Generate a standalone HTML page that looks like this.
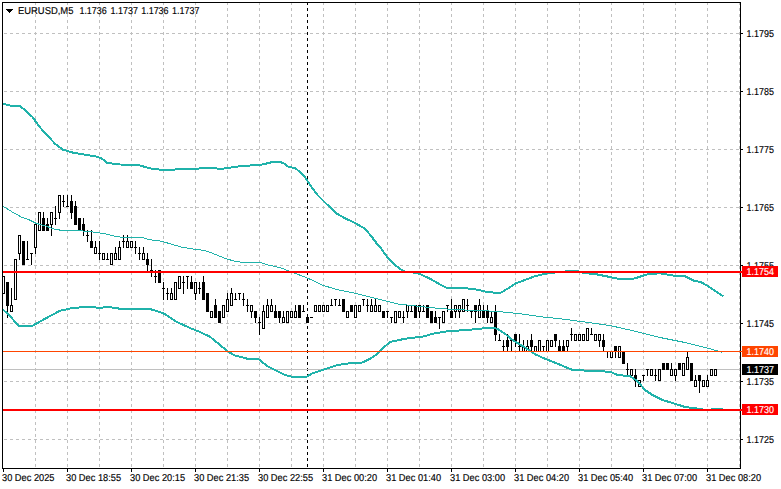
<!DOCTYPE html>
<html><head><meta charset="utf-8"><title>EURUSD,M5</title>
<style>html,body{margin:0;padding:0;background:#fff}svg{display:block}text{font-family:"Liberation Sans",sans-serif;font-size:10px;text-rendering:geometricPrecision;fill:#000;stroke:#000;stroke-width:0.15px}</style>
</head><body>
<svg width="781" height="489" viewBox="0 0 781 489">
<rect x="0" y="0" width="781" height="489" fill="#fff"/>
<g shape-rendering="crispEdges">
<line x1="4" y1="33.5" x2="740" y2="33.5" stroke="#c0c0c0" stroke-width="1" stroke-dasharray="3 3"/>
<line x1="4" y1="91.5" x2="740" y2="91.5" stroke="#c0c0c0" stroke-width="1" stroke-dasharray="3 3"/>
<line x1="4" y1="149.5" x2="740" y2="149.5" stroke="#c0c0c0" stroke-width="1" stroke-dasharray="3 3"/>
<line x1="4" y1="207.5" x2="740" y2="207.5" stroke="#c0c0c0" stroke-width="1" stroke-dasharray="3 3"/>
<line x1="4" y1="265.5" x2="740" y2="265.5" stroke="#c0c0c0" stroke-width="1" stroke-dasharray="3 3"/>
<line x1="4" y1="323.5" x2="740" y2="323.5" stroke="#c0c0c0" stroke-width="1" stroke-dasharray="3 3"/>
<line x1="4" y1="381.5" x2="740" y2="381.5" stroke="#c0c0c0" stroke-width="1" stroke-dasharray="3 3"/>
<line x1="4" y1="439.5" x2="740" y2="439.5" stroke="#c0c0c0" stroke-width="1" stroke-dasharray="3 3"/>
<line x1="35.5" y1="2" x2="35.5" y2="468" stroke="#c0c0c0" stroke-width="1" stroke-dasharray="3 3"/>
<line x1="67.5" y1="2" x2="67.5" y2="468" stroke="#c0c0c0" stroke-width="1" stroke-dasharray="3 3"/>
<line x1="99.5" y1="2" x2="99.5" y2="468" stroke="#c0c0c0" stroke-width="1" stroke-dasharray="3 3"/>
<line x1="131.5" y1="2" x2="131.5" y2="468" stroke="#c0c0c0" stroke-width="1" stroke-dasharray="3 3"/>
<line x1="163.5" y1="2" x2="163.5" y2="468" stroke="#c0c0c0" stroke-width="1" stroke-dasharray="3 3"/>
<line x1="195.5" y1="2" x2="195.5" y2="468" stroke="#c0c0c0" stroke-width="1" stroke-dasharray="3 3"/>
<line x1="227.5" y1="2" x2="227.5" y2="468" stroke="#c0c0c0" stroke-width="1" stroke-dasharray="3 3"/>
<line x1="259.5" y1="2" x2="259.5" y2="468" stroke="#c0c0c0" stroke-width="1" stroke-dasharray="3 3"/>
<line x1="291.5" y1="2" x2="291.5" y2="468" stroke="#c0c0c0" stroke-width="1" stroke-dasharray="3 3"/>
<line x1="323.5" y1="2" x2="323.5" y2="468" stroke="#c0c0c0" stroke-width="1" stroke-dasharray="3 3"/>
<line x1="355.5" y1="2" x2="355.5" y2="468" stroke="#c0c0c0" stroke-width="1" stroke-dasharray="3 3"/>
<line x1="387.5" y1="2" x2="387.5" y2="468" stroke="#c0c0c0" stroke-width="1" stroke-dasharray="3 3"/>
<line x1="419.5" y1="2" x2="419.5" y2="468" stroke="#c0c0c0" stroke-width="1" stroke-dasharray="3 3"/>
<line x1="451.5" y1="2" x2="451.5" y2="468" stroke="#c0c0c0" stroke-width="1" stroke-dasharray="3 3"/>
<line x1="483.5" y1="2" x2="483.5" y2="468" stroke="#c0c0c0" stroke-width="1" stroke-dasharray="3 3"/>
<line x1="515.5" y1="2" x2="515.5" y2="468" stroke="#c0c0c0" stroke-width="1" stroke-dasharray="3 3"/>
<line x1="547.5" y1="2" x2="547.5" y2="468" stroke="#c0c0c0" stroke-width="1" stroke-dasharray="3 3"/>
<line x1="579.5" y1="2" x2="579.5" y2="468" stroke="#c0c0c0" stroke-width="1" stroke-dasharray="3 3"/>
<line x1="611.5" y1="2" x2="611.5" y2="468" stroke="#c0c0c0" stroke-width="1" stroke-dasharray="3 3"/>
<line x1="643.5" y1="2" x2="643.5" y2="468" stroke="#c0c0c0" stroke-width="1" stroke-dasharray="3 3"/>
<line x1="675.5" y1="2" x2="675.5" y2="468" stroke="#c0c0c0" stroke-width="1" stroke-dasharray="3 3"/>
<line x1="707.5" y1="2" x2="707.5" y2="468" stroke="#c0c0c0" stroke-width="1" stroke-dasharray="3 3"/>
<line x1="739.5" y1="2" x2="739.5" y2="468" stroke="#c0c0c0" stroke-width="1" stroke-dasharray="3 3"/>
<line x1="307.5" y1="2" x2="307.5" y2="468" stroke="#000" stroke-width="1" stroke-dasharray="3 3"/>
<rect x="3" y="369" width="737" height="1" fill="#c0c0c0"/>
<rect x="3" y="276" width="1" height="18" fill="#000"/>
<rect x="2" y="276" width="3" height="18" fill="#000"/>
<rect x="3" y="277" width="1" height="16" fill="#fff"/>
<rect x="7" y="282" width="1" height="36" fill="#000"/>
<rect x="6" y="282" width="3" height="24" fill="#000"/>
<rect x="11" y="288" width="1" height="24" fill="#000"/>
<rect x="10" y="305" width="3" height="7" fill="#000"/>
<rect x="11" y="306" width="1" height="5" fill="#fff"/>
<rect x="15" y="259" width="1" height="41" fill="#000"/>
<rect x="14" y="259" width="3" height="41" fill="#000"/>
<rect x="15" y="260" width="1" height="39" fill="#fff"/>
<rect x="19" y="235" width="1" height="25" fill="#000"/>
<rect x="18" y="235" width="3" height="19" fill="#000"/>
<rect x="19" y="236" width="1" height="17" fill="#fff"/>
<rect x="23" y="241" width="1" height="24" fill="#000"/>
<rect x="22" y="241" width="3" height="24" fill="#000"/>
<rect x="27" y="241" width="1" height="19" fill="#000"/>
<rect x="26" y="259" width="3" height="1" fill="#000"/>
<rect x="31" y="253" width="1" height="12" fill="#000"/>
<rect x="30" y="253" width="3" height="1" fill="#000"/>
<rect x="35" y="224" width="1" height="30" fill="#000"/>
<rect x="34" y="224" width="3" height="24" fill="#000"/>
<rect x="35" y="225" width="1" height="22" fill="#fff"/>
<rect x="39" y="212" width="1" height="19" fill="#000"/>
<rect x="38" y="212" width="3" height="19" fill="#000"/>
<rect x="39" y="213" width="1" height="17" fill="#fff"/>
<rect x="43" y="212" width="1" height="19" fill="#000"/>
<rect x="42" y="218" width="3" height="13" fill="#000"/>
<rect x="47" y="218" width="1" height="13" fill="#000"/>
<rect x="46" y="224" width="3" height="7" fill="#000"/>
<rect x="51" y="212" width="1" height="24" fill="#000"/>
<rect x="50" y="212" width="3" height="13" fill="#000"/>
<rect x="51" y="213" width="1" height="11" fill="#fff"/>
<rect x="55" y="206" width="1" height="19" fill="#000"/>
<rect x="54" y="218" width="3" height="1" fill="#000"/>
<rect x="59" y="195" width="1" height="24" fill="#000"/>
<rect x="58" y="195" width="3" height="18" fill="#000"/>
<rect x="59" y="196" width="1" height="16" fill="#fff"/>
<rect x="63" y="195" width="1" height="12" fill="#000"/>
<rect x="62" y="201" width="3" height="1" fill="#000"/>
<rect x="67" y="195" width="1" height="12" fill="#000"/>
<rect x="66" y="206" width="3" height="1" fill="#000"/>
<rect x="71" y="195" width="1" height="24" fill="#000"/>
<rect x="70" y="201" width="3" height="12" fill="#000"/>
<rect x="75" y="201" width="1" height="24" fill="#000"/>
<rect x="74" y="206" width="3" height="19" fill="#000"/>
<rect x="79" y="218" width="1" height="13" fill="#000"/>
<rect x="78" y="218" width="3" height="13" fill="#000"/>
<rect x="83" y="218" width="1" height="18" fill="#000"/>
<rect x="82" y="224" width="3" height="7" fill="#000"/>
<rect x="87" y="230" width="1" height="12" fill="#000"/>
<rect x="86" y="235" width="3" height="1" fill="#000"/>
<rect x="91" y="230" width="1" height="18" fill="#000"/>
<rect x="90" y="241" width="3" height="7" fill="#000"/>
<rect x="95" y="241" width="1" height="13" fill="#000"/>
<rect x="94" y="247" width="3" height="7" fill="#000"/>
<rect x="95" y="248" width="1" height="5" fill="#fff"/>
<rect x="99" y="241" width="1" height="19" fill="#000"/>
<rect x="98" y="253" width="3" height="1" fill="#000"/>
<rect x="103" y="253" width="1" height="7" fill="#000"/>
<rect x="102" y="253" width="3" height="7" fill="#000"/>
<rect x="103" y="254" width="1" height="5" fill="#fff"/>
<rect x="107" y="253" width="1" height="7" fill="#000"/>
<rect x="106" y="259" width="3" height="1" fill="#000"/>
<rect x="111" y="253" width="1" height="12" fill="#000"/>
<rect x="110" y="253" width="3" height="12" fill="#000"/>
<rect x="111" y="254" width="1" height="10" fill="#fff"/>
<rect x="115" y="247" width="1" height="13" fill="#000"/>
<rect x="114" y="253" width="3" height="7" fill="#000"/>
<rect x="115" y="254" width="1" height="5" fill="#fff"/>
<rect x="119" y="241" width="1" height="19" fill="#000"/>
<rect x="118" y="247" width="3" height="13" fill="#000"/>
<rect x="119" y="248" width="1" height="11" fill="#fff"/>
<rect x="123" y="235" width="1" height="13" fill="#000"/>
<rect x="122" y="241" width="3" height="1" fill="#000"/>
<rect x="127" y="235" width="1" height="13" fill="#000"/>
<rect x="126" y="241" width="3" height="7" fill="#000"/>
<rect x="127" y="242" width="1" height="5" fill="#fff"/>
<rect x="131" y="241" width="1" height="7" fill="#000"/>
<rect x="130" y="241" width="3" height="7" fill="#000"/>
<rect x="131" y="242" width="1" height="5" fill="#fff"/>
<rect x="135" y="241" width="1" height="13" fill="#000"/>
<rect x="134" y="247" width="3" height="1" fill="#000"/>
<rect x="139" y="247" width="1" height="13" fill="#000"/>
<rect x="138" y="253" width="3" height="1" fill="#000"/>
<rect x="143" y="247" width="1" height="13" fill="#000"/>
<rect x="142" y="253" width="3" height="7" fill="#000"/>
<rect x="143" y="254" width="1" height="5" fill="#fff"/>
<rect x="147" y="253" width="1" height="18" fill="#000"/>
<rect x="146" y="259" width="3" height="6" fill="#000"/>
<rect x="151" y="259" width="1" height="18" fill="#000"/>
<rect x="150" y="270" width="3" height="1" fill="#000"/>
<rect x="155" y="270" width="1" height="13" fill="#000"/>
<rect x="154" y="276" width="3" height="1" fill="#000"/>
<rect x="159" y="270" width="1" height="13" fill="#000"/>
<rect x="158" y="270" width="3" height="13" fill="#000"/>
<rect x="163" y="282" width="1" height="18" fill="#000"/>
<rect x="162" y="288" width="3" height="1" fill="#000"/>
<rect x="167" y="288" width="1" height="12" fill="#000"/>
<rect x="166" y="293" width="3" height="1" fill="#000"/>
<rect x="171" y="288" width="1" height="12" fill="#000"/>
<rect x="170" y="293" width="3" height="7" fill="#000"/>
<rect x="171" y="294" width="1" height="5" fill="#fff"/>
<rect x="175" y="282" width="1" height="18" fill="#000"/>
<rect x="174" y="282" width="3" height="18" fill="#000"/>
<rect x="175" y="283" width="1" height="16" fill="#fff"/>
<rect x="179" y="276" width="1" height="13" fill="#000"/>
<rect x="178" y="276" width="3" height="13" fill="#000"/>
<rect x="179" y="277" width="1" height="11" fill="#fff"/>
<rect x="183" y="276" width="1" height="18" fill="#000"/>
<rect x="182" y="282" width="3" height="1" fill="#000"/>
<rect x="187" y="276" width="1" height="13" fill="#000"/>
<rect x="186" y="276" width="3" height="1" fill="#000"/>
<rect x="191" y="276" width="1" height="13" fill="#000"/>
<rect x="190" y="282" width="3" height="7" fill="#000"/>
<rect x="195" y="282" width="1" height="18" fill="#000"/>
<rect x="194" y="282" width="3" height="12" fill="#000"/>
<rect x="195" y="283" width="1" height="10" fill="#fff"/>
<rect x="199" y="282" width="1" height="12" fill="#000"/>
<rect x="198" y="288" width="3" height="1" fill="#000"/>
<rect x="203" y="276" width="1" height="24" fill="#000"/>
<rect x="202" y="282" width="3" height="18" fill="#000"/>
<rect x="207" y="293" width="1" height="19" fill="#000"/>
<rect x="206" y="293" width="3" height="19" fill="#000"/>
<rect x="211" y="311" width="1" height="7" fill="#000"/>
<rect x="210" y="311" width="3" height="7" fill="#000"/>
<rect x="211" y="312" width="1" height="5" fill="#fff"/>
<rect x="215" y="299" width="1" height="19" fill="#000"/>
<rect x="214" y="305" width="3" height="13" fill="#000"/>
<rect x="219" y="311" width="1" height="12" fill="#000"/>
<rect x="218" y="311" width="3" height="12" fill="#000"/>
<rect x="223" y="305" width="1" height="13" fill="#000"/>
<rect x="222" y="305" width="3" height="13" fill="#000"/>
<rect x="223" y="306" width="1" height="11" fill="#fff"/>
<rect x="227" y="293" width="1" height="19" fill="#000"/>
<rect x="226" y="299" width="3" height="13" fill="#000"/>
<rect x="227" y="300" width="1" height="11" fill="#fff"/>
<rect x="231" y="288" width="1" height="18" fill="#000"/>
<rect x="230" y="293" width="3" height="13" fill="#000"/>
<rect x="231" y="294" width="1" height="11" fill="#fff"/>
<rect x="235" y="293" width="1" height="7" fill="#000"/>
<rect x="234" y="299" width="3" height="1" fill="#000"/>
<rect x="239" y="293" width="1" height="7" fill="#000"/>
<rect x="238" y="293" width="3" height="1" fill="#000"/>
<rect x="243" y="293" width="1" height="13" fill="#000"/>
<rect x="242" y="299" width="3" height="1" fill="#000"/>
<rect x="247" y="299" width="1" height="13" fill="#000"/>
<rect x="246" y="305" width="3" height="1" fill="#000"/>
<rect x="251" y="305" width="1" height="13" fill="#000"/>
<rect x="250" y="305" width="3" height="7" fill="#000"/>
<rect x="251" y="306" width="1" height="5" fill="#fff"/>
<rect x="255" y="311" width="1" height="12" fill="#000"/>
<rect x="254" y="311" width="3" height="7" fill="#000"/>
<rect x="259" y="317" width="1" height="18" fill="#000"/>
<rect x="258" y="322" width="3" height="1" fill="#000"/>
<rect x="263" y="305" width="1" height="24" fill="#000"/>
<rect x="262" y="311" width="3" height="18" fill="#000"/>
<rect x="263" y="312" width="1" height="16" fill="#fff"/>
<rect x="267" y="299" width="1" height="19" fill="#000"/>
<rect x="266" y="305" width="3" height="13" fill="#000"/>
<rect x="267" y="306" width="1" height="11" fill="#fff"/>
<rect x="271" y="299" width="1" height="13" fill="#000"/>
<rect x="270" y="305" width="3" height="7" fill="#000"/>
<rect x="271" y="306" width="1" height="5" fill="#fff"/>
<rect x="275" y="305" width="1" height="13" fill="#000"/>
<rect x="274" y="311" width="3" height="7" fill="#000"/>
<rect x="279" y="311" width="1" height="12" fill="#000"/>
<rect x="278" y="311" width="3" height="7" fill="#000"/>
<rect x="283" y="311" width="1" height="12" fill="#000"/>
<rect x="282" y="317" width="3" height="6" fill="#000"/>
<rect x="283" y="318" width="1" height="4" fill="#fff"/>
<rect x="287" y="311" width="1" height="12" fill="#000"/>
<rect x="286" y="311" width="3" height="12" fill="#000"/>
<rect x="287" y="312" width="1" height="10" fill="#fff"/>
<rect x="291" y="311" width="1" height="7" fill="#000"/>
<rect x="290" y="311" width="3" height="7" fill="#000"/>
<rect x="291" y="312" width="1" height="5" fill="#fff"/>
<rect x="295" y="305" width="1" height="13" fill="#000"/>
<rect x="294" y="311" width="3" height="7" fill="#000"/>
<rect x="295" y="312" width="1" height="5" fill="#fff"/>
<rect x="299" y="305" width="1" height="13" fill="#000"/>
<rect x="298" y="305" width="3" height="13" fill="#000"/>
<rect x="303" y="305" width="1" height="7" fill="#000"/>
<rect x="302" y="311" width="3" height="1" fill="#000"/>
<rect x="307" y="317" width="1" height="6" fill="#000"/>
<rect x="306" y="317" width="3" height="6" fill="#000"/>
<rect x="311" y="317" width="1" height="1" fill="#000"/>
<rect x="310" y="317" width="3" height="1" fill="#000"/>
<rect x="315" y="305" width="1" height="7" fill="#000"/>
<rect x="314" y="305" width="3" height="7" fill="#000"/>
<rect x="315" y="306" width="1" height="5" fill="#fff"/>
<rect x="319" y="305" width="1" height="7" fill="#000"/>
<rect x="318" y="305" width="3" height="7" fill="#000"/>
<rect x="319" y="306" width="1" height="5" fill="#fff"/>
<rect x="323" y="305" width="1" height="7" fill="#000"/>
<rect x="322" y="305" width="3" height="7" fill="#000"/>
<rect x="323" y="306" width="1" height="5" fill="#fff"/>
<rect x="327" y="305" width="1" height="7" fill="#000"/>
<rect x="326" y="305" width="3" height="7" fill="#000"/>
<rect x="327" y="306" width="1" height="5" fill="#fff"/>
<rect x="331" y="299" width="1" height="7" fill="#000"/>
<rect x="330" y="305" width="3" height="1" fill="#000"/>
<rect x="335" y="299" width="1" height="7" fill="#000"/>
<rect x="334" y="299" width="3" height="1" fill="#000"/>
<rect x="339" y="299" width="1" height="7" fill="#000"/>
<rect x="338" y="305" width="3" height="1" fill="#000"/>
<rect x="343" y="299" width="1" height="13" fill="#000"/>
<rect x="342" y="299" width="3" height="13" fill="#000"/>
<rect x="347" y="311" width="1" height="7" fill="#000"/>
<rect x="346" y="311" width="3" height="7" fill="#000"/>
<rect x="347" y="312" width="1" height="5" fill="#fff"/>
<rect x="351" y="305" width="1" height="7" fill="#000"/>
<rect x="350" y="305" width="3" height="7" fill="#000"/>
<rect x="355" y="305" width="1" height="13" fill="#000"/>
<rect x="354" y="305" width="3" height="13" fill="#000"/>
<rect x="355" y="306" width="1" height="11" fill="#fff"/>
<rect x="359" y="305" width="1" height="7" fill="#000"/>
<rect x="358" y="305" width="3" height="7" fill="#000"/>
<rect x="359" y="306" width="1" height="5" fill="#fff"/>
<rect x="363" y="299" width="1" height="7" fill="#000"/>
<rect x="362" y="299" width="3" height="1" fill="#000"/>
<rect x="367" y="299" width="1" height="13" fill="#000"/>
<rect x="366" y="305" width="3" height="1" fill="#000"/>
<rect x="371" y="299" width="1" height="13" fill="#000"/>
<rect x="370" y="305" width="3" height="7" fill="#000"/>
<rect x="371" y="306" width="1" height="5" fill="#fff"/>
<rect x="375" y="299" width="1" height="13" fill="#000"/>
<rect x="374" y="305" width="3" height="7" fill="#000"/>
<rect x="375" y="306" width="1" height="5" fill="#fff"/>
<rect x="379" y="305" width="1" height="7" fill="#000"/>
<rect x="378" y="305" width="3" height="7" fill="#000"/>
<rect x="379" y="306" width="1" height="5" fill="#fff"/>
<rect x="383" y="311" width="1" height="7" fill="#000"/>
<rect x="382" y="311" width="3" height="7" fill="#000"/>
<rect x="387" y="311" width="1" height="7" fill="#000"/>
<rect x="386" y="311" width="3" height="1" fill="#000"/>
<rect x="391" y="317" width="1" height="6" fill="#000"/>
<rect x="390" y="317" width="3" height="1" fill="#000"/>
<rect x="395" y="311" width="1" height="12" fill="#000"/>
<rect x="394" y="311" width="3" height="12" fill="#000"/>
<rect x="395" y="312" width="1" height="10" fill="#fff"/>
<rect x="399" y="311" width="1" height="7" fill="#000"/>
<rect x="398" y="311" width="3" height="7" fill="#000"/>
<rect x="399" y="312" width="1" height="5" fill="#fff"/>
<rect x="403" y="311" width="1" height="12" fill="#000"/>
<rect x="402" y="317" width="3" height="1" fill="#000"/>
<rect x="407" y="305" width="1" height="13" fill="#000"/>
<rect x="406" y="305" width="3" height="7" fill="#000"/>
<rect x="407" y="306" width="1" height="5" fill="#fff"/>
<rect x="411" y="305" width="1" height="7" fill="#000"/>
<rect x="410" y="311" width="3" height="1" fill="#000"/>
<rect x="415" y="305" width="1" height="13" fill="#000"/>
<rect x="414" y="305" width="3" height="13" fill="#000"/>
<rect x="419" y="305" width="1" height="13" fill="#000"/>
<rect x="418" y="305" width="3" height="7" fill="#000"/>
<rect x="419" y="306" width="1" height="5" fill="#fff"/>
<rect x="423" y="305" width="1" height="7" fill="#000"/>
<rect x="422" y="311" width="3" height="1" fill="#000"/>
<rect x="427" y="305" width="1" height="13" fill="#000"/>
<rect x="426" y="305" width="3" height="13" fill="#000"/>
<rect x="431" y="311" width="1" height="12" fill="#000"/>
<rect x="430" y="311" width="3" height="12" fill="#000"/>
<rect x="435" y="311" width="1" height="12" fill="#000"/>
<rect x="434" y="317" width="3" height="6" fill="#000"/>
<rect x="439" y="317" width="1" height="12" fill="#000"/>
<rect x="438" y="317" width="3" height="1" fill="#000"/>
<rect x="443" y="311" width="1" height="12" fill="#000"/>
<rect x="442" y="311" width="3" height="12" fill="#000"/>
<rect x="443" y="312" width="1" height="10" fill="#fff"/>
<rect x="447" y="305" width="1" height="7" fill="#000"/>
<rect x="446" y="305" width="3" height="1" fill="#000"/>
<rect x="451" y="299" width="1" height="19" fill="#000"/>
<rect x="450" y="311" width="3" height="7" fill="#000"/>
<rect x="455" y="305" width="1" height="13" fill="#000"/>
<rect x="454" y="305" width="3" height="7" fill="#000"/>
<rect x="455" y="306" width="1" height="5" fill="#fff"/>
<rect x="459" y="305" width="1" height="13" fill="#000"/>
<rect x="458" y="305" width="3" height="7" fill="#000"/>
<rect x="459" y="306" width="1" height="5" fill="#fff"/>
<rect x="463" y="299" width="1" height="13" fill="#000"/>
<rect x="462" y="299" width="3" height="13" fill="#000"/>
<rect x="463" y="300" width="1" height="11" fill="#fff"/>
<rect x="467" y="299" width="1" height="13" fill="#000"/>
<rect x="466" y="305" width="3" height="1" fill="#000"/>
<rect x="471" y="311" width="1" height="7" fill="#000"/>
<rect x="470" y="311" width="3" height="1" fill="#000"/>
<rect x="475" y="305" width="1" height="18" fill="#000"/>
<rect x="474" y="305" width="3" height="7" fill="#000"/>
<rect x="479" y="299" width="1" height="19" fill="#000"/>
<rect x="478" y="305" width="3" height="13" fill="#000"/>
<rect x="479" y="306" width="1" height="11" fill="#fff"/>
<rect x="483" y="305" width="1" height="13" fill="#000"/>
<rect x="482" y="311" width="3" height="7" fill="#000"/>
<rect x="487" y="305" width="1" height="18" fill="#000"/>
<rect x="486" y="311" width="3" height="7" fill="#000"/>
<rect x="491" y="311" width="1" height="12" fill="#000"/>
<rect x="490" y="317" width="3" height="6" fill="#000"/>
<rect x="491" y="318" width="1" height="4" fill="#fff"/>
<rect x="495" y="305" width="1" height="36" fill="#000"/>
<rect x="494" y="311" width="3" height="24" fill="#000"/>
<rect x="499" y="334" width="1" height="7" fill="#000"/>
<rect x="498" y="340" width="3" height="1" fill="#000"/>
<rect x="503" y="340" width="1" height="12" fill="#000"/>
<rect x="502" y="346" width="3" height="1" fill="#000"/>
<rect x="507" y="334" width="1" height="18" fill="#000"/>
<rect x="506" y="340" width="3" height="7" fill="#000"/>
<rect x="511" y="340" width="1" height="12" fill="#000"/>
<rect x="510" y="340" width="3" height="1" fill="#000"/>
<rect x="515" y="334" width="1" height="13" fill="#000"/>
<rect x="514" y="334" width="3" height="7" fill="#000"/>
<rect x="519" y="334" width="1" height="18" fill="#000"/>
<rect x="518" y="346" width="3" height="1" fill="#000"/>
<rect x="523" y="340" width="1" height="12" fill="#000"/>
<rect x="522" y="346" width="3" height="6" fill="#000"/>
<rect x="523" y="347" width="1" height="4" fill="#fff"/>
<rect x="527" y="340" width="1" height="12" fill="#000"/>
<rect x="526" y="346" width="3" height="6" fill="#000"/>
<rect x="527" y="347" width="1" height="4" fill="#fff"/>
<rect x="531" y="334" width="1" height="18" fill="#000"/>
<rect x="530" y="340" width="3" height="7" fill="#000"/>
<rect x="535" y="346" width="1" height="6" fill="#000"/>
<rect x="534" y="346" width="3" height="6" fill="#000"/>
<rect x="535" y="347" width="1" height="4" fill="#fff"/>
<rect x="539" y="340" width="1" height="12" fill="#000"/>
<rect x="538" y="340" width="3" height="12" fill="#000"/>
<rect x="539" y="341" width="1" height="10" fill="#fff"/>
<rect x="543" y="346" width="1" height="6" fill="#000"/>
<rect x="542" y="346" width="3" height="1" fill="#000"/>
<rect x="547" y="340" width="1" height="12" fill="#000"/>
<rect x="546" y="340" width="3" height="12" fill="#000"/>
<rect x="547" y="341" width="1" height="10" fill="#fff"/>
<rect x="551" y="340" width="1" height="7" fill="#000"/>
<rect x="550" y="340" width="3" height="7" fill="#000"/>
<rect x="551" y="341" width="1" height="5" fill="#fff"/>
<rect x="555" y="334" width="1" height="13" fill="#000"/>
<rect x="554" y="334" width="3" height="7" fill="#000"/>
<rect x="559" y="340" width="1" height="12" fill="#000"/>
<rect x="558" y="346" width="3" height="6" fill="#000"/>
<rect x="563" y="340" width="1" height="12" fill="#000"/>
<rect x="562" y="346" width="3" height="6" fill="#000"/>
<rect x="567" y="340" width="1" height="12" fill="#000"/>
<rect x="566" y="340" width="3" height="7" fill="#000"/>
<rect x="567" y="341" width="1" height="5" fill="#fff"/>
<rect x="571" y="328" width="1" height="13" fill="#000"/>
<rect x="570" y="334" width="3" height="1" fill="#000"/>
<rect x="575" y="334" width="1" height="7" fill="#000"/>
<rect x="574" y="334" width="3" height="7" fill="#000"/>
<rect x="575" y="335" width="1" height="5" fill="#fff"/>
<rect x="579" y="334" width="1" height="7" fill="#000"/>
<rect x="578" y="334" width="3" height="7" fill="#000"/>
<rect x="579" y="335" width="1" height="5" fill="#fff"/>
<rect x="583" y="334" width="1" height="7" fill="#000"/>
<rect x="582" y="334" width="3" height="7" fill="#000"/>
<rect x="583" y="335" width="1" height="5" fill="#fff"/>
<rect x="587" y="328" width="1" height="13" fill="#000"/>
<rect x="586" y="328" width="3" height="13" fill="#000"/>
<rect x="587" y="329" width="1" height="11" fill="#fff"/>
<rect x="591" y="328" width="1" height="7" fill="#000"/>
<rect x="590" y="334" width="3" height="1" fill="#000"/>
<rect x="595" y="334" width="1" height="7" fill="#000"/>
<rect x="594" y="334" width="3" height="7" fill="#000"/>
<rect x="595" y="335" width="1" height="5" fill="#fff"/>
<rect x="599" y="334" width="1" height="13" fill="#000"/>
<rect x="598" y="334" width="3" height="7" fill="#000"/>
<rect x="599" y="335" width="1" height="5" fill="#fff"/>
<rect x="603" y="334" width="1" height="18" fill="#000"/>
<rect x="602" y="340" width="3" height="7" fill="#000"/>
<rect x="607" y="351" width="1" height="7" fill="#000"/>
<rect x="606" y="351" width="3" height="1" fill="#000"/>
<rect x="611" y="351" width="1" height="7" fill="#000"/>
<rect x="610" y="351" width="3" height="7" fill="#000"/>
<rect x="611" y="352" width="1" height="5" fill="#fff"/>
<rect x="615" y="346" width="1" height="12" fill="#000"/>
<rect x="614" y="346" width="3" height="6" fill="#000"/>
<rect x="619" y="346" width="1" height="12" fill="#000"/>
<rect x="618" y="346" width="3" height="12" fill="#000"/>
<rect x="619" y="347" width="1" height="10" fill="#fff"/>
<rect x="623" y="351" width="1" height="13" fill="#000"/>
<rect x="622" y="351" width="3" height="13" fill="#000"/>
<rect x="627" y="363" width="1" height="13" fill="#000"/>
<rect x="626" y="369" width="3" height="1" fill="#000"/>
<rect x="631" y="369" width="1" height="7" fill="#000"/>
<rect x="630" y="369" width="3" height="7" fill="#000"/>
<rect x="631" y="370" width="1" height="5" fill="#fff"/>
<rect x="635" y="369" width="1" height="18" fill="#000"/>
<rect x="634" y="375" width="3" height="6" fill="#000"/>
<rect x="639" y="380" width="1" height="7" fill="#000"/>
<rect x="638" y="380" width="3" height="7" fill="#000"/>
<rect x="639" y="381" width="1" height="5" fill="#fff"/>
<rect x="643" y="375" width="1" height="6" fill="#000"/>
<rect x="642" y="375" width="3" height="1" fill="#000"/>
<rect x="647" y="369" width="1" height="7" fill="#000"/>
<rect x="646" y="369" width="3" height="1" fill="#000"/>
<rect x="651" y="369" width="1" height="7" fill="#000"/>
<rect x="650" y="369" width="3" height="7" fill="#000"/>
<rect x="651" y="370" width="1" height="5" fill="#fff"/>
<rect x="655" y="369" width="1" height="12" fill="#000"/>
<rect x="654" y="375" width="3" height="1" fill="#000"/>
<rect x="659" y="369" width="1" height="12" fill="#000"/>
<rect x="658" y="369" width="3" height="12" fill="#000"/>
<rect x="659" y="370" width="1" height="10" fill="#fff"/>
<rect x="663" y="363" width="1" height="7" fill="#000"/>
<rect x="662" y="363" width="3" height="7" fill="#000"/>
<rect x="667" y="363" width="1" height="7" fill="#000"/>
<rect x="666" y="363" width="3" height="7" fill="#000"/>
<rect x="671" y="363" width="1" height="13" fill="#000"/>
<rect x="670" y="369" width="3" height="7" fill="#000"/>
<rect x="671" y="370" width="1" height="5" fill="#fff"/>
<rect x="675" y="369" width="1" height="12" fill="#000"/>
<rect x="674" y="369" width="3" height="7" fill="#000"/>
<rect x="675" y="370" width="1" height="5" fill="#fff"/>
<rect x="679" y="363" width="1" height="7" fill="#000"/>
<rect x="678" y="363" width="3" height="7" fill="#000"/>
<rect x="683" y="363" width="1" height="13" fill="#000"/>
<rect x="682" y="363" width="3" height="13" fill="#000"/>
<rect x="683" y="364" width="1" height="11" fill="#fff"/>
<rect x="687" y="351" width="1" height="19" fill="#000"/>
<rect x="686" y="357" width="3" height="13" fill="#000"/>
<rect x="687" y="358" width="1" height="11" fill="#fff"/>
<rect x="691" y="363" width="1" height="18" fill="#000"/>
<rect x="690" y="363" width="3" height="18" fill="#000"/>
<rect x="695" y="375" width="1" height="12" fill="#000"/>
<rect x="694" y="380" width="3" height="7" fill="#000"/>
<rect x="695" y="381" width="1" height="5" fill="#fff"/>
<rect x="699" y="375" width="1" height="18" fill="#000"/>
<rect x="698" y="375" width="3" height="6" fill="#000"/>
<rect x="703" y="380" width="1" height="7" fill="#000"/>
<rect x="702" y="380" width="3" height="7" fill="#000"/>
<rect x="703" y="381" width="1" height="5" fill="#fff"/>
<rect x="707" y="375" width="1" height="12" fill="#000"/>
<rect x="706" y="380" width="3" height="7" fill="#000"/>
<rect x="707" y="381" width="1" height="5" fill="#fff"/>
<rect x="711" y="369" width="1" height="7" fill="#000"/>
<rect x="710" y="369" width="3" height="7" fill="#000"/>
<rect x="711" y="370" width="1" height="5" fill="#fff"/>
<rect x="715" y="369" width="1" height="7" fill="#000"/>
<rect x="714" y="369" width="3" height="7" fill="#000"/>
<rect x="715" y="370" width="1" height="5" fill="#fff"/>
</g>
<polyline points="3,103.75 10,105.5 20,106.25 25,110 32.5,117 40,127.5 47.5,135.5 55,143.75 62.5,149.5 72.5,152.5 82.5,154.25 95,156.25 101,158 107.5,163 120,164.5 138.75,165 145,167 152.5,169 165,170 175,169.5 190,169.25 205,168 222.5,168.75 240,166.25 262.5,164.5 272.5,162 280,162 283.75,163.25 288.75,167 295,168 300,172 305,177 310,185 317.5,195 325,202.5 336.25,213.25 345,218.25 355,223 363.75,228 370,234.5 377.5,244.5 380,247 387.5,257.5 395,265 402.5,270.6 405,271.6 407.5,272 417.5,273 430,278.75 440,284.5 447.5,288.25 462.5,288 475,289.25 487.5,292 500,293.25 507.5,288.75 515,283.75 525,280 535,276.25 545,273.75 555,272.5 565,271.6 568,270.5 576,270.5 580,272 585,273 597.5,274.5 610,277 620,279.25 630,279.5 637.5,277.5 647.5,274.25 660,273.25 672.5,275.5 683.75,275.75 690,278.75 695,281.25 700,281.75 707.5,285.75 715,290.75 723,296.25" fill="none" stroke="#20b2aa" stroke-width="2" stroke-linejoin="round" shape-rendering="crispEdges"/>
<polyline points="3,309.5 10,316.25 18.75,325.75 32.5,325.75 45,318.75 60,310.75 72.5,308 90,306.75 100,308 107.5,306.75 120,308.75 150,309 162.5,313 168,316 176,321.6 184.5,325.4 190,328 200,332 210,336.75 220,345 227.5,351.25 235,355.5 247.5,358.75 258.75,359.25 267.5,366.25 277.5,371.25 285,375 292.5,377 306.25,377 312.5,373.25 325,369.25 337.5,365 350,363.25 362.5,362.5 370,358.75 377.5,353.75 385,346.25 390,342 405,338.75 425,336.25 432.5,333.75 447.5,331.25 467.5,330 480,328.75 490,327.5 497.5,328.75 505,333.75 512.5,340 525,347.5 535,354.25 545,358.75 557.5,363.75 572.5,370 590,370.75 610,371.75 617.5,375 630,376.25 637.5,381.25 645,390 652.5,395 662.5,400 675,403.75 685,407 695,408.3 704,409.6 711,409.6 713,409 723,409" fill="none" stroke="#20b2aa" stroke-width="2" stroke-linejoin="round" shape-rendering="crispEdges"/>
<polyline points="3,206.2 12.3,212 21.3,217 28,219.3 36.2,223.4 44.4,225.5 55,229.4 62.4,230.4 78.8,230.4 85.4,231.4 92,231.8 96,232.4 104.2,233.6 112.4,235.7 122.2,237.3 142,237.3 146.8,239 153.4,240.2 161.6,241.2 169.8,243.7 181,247 195,249.3 204.8,250.4 216.3,254.8 227,259.1 234.3,261 242.5,262.4 260.6,262.7 268.8,265.2 280.2,267.6 288.4,270.9 296.6,273.9 308,278.3 323,285.3 337.2,289.7 353.6,293 370,297 386.4,301.1 399.5,304.4 409.3,305.2 417.5,306.25 442.5,308.75 465,310 495,311.25 520,313.75 542.5,317 560,318.75 585,322 610,325.5 635,331.25 660,337.5 685,342.5 710,348.75 722.5,352.5" fill="none" stroke="#20b2aa" stroke-width="1" stroke-linejoin="round" shape-rendering="crispEdges"/>
<g shape-rendering="crispEdges">
<rect x="2" y="2" width="739" height="1" fill="#000"/>
<rect x="2" y="2" width="1" height="467" fill="#000"/>
<rect x="740" y="2" width="1" height="467" fill="#000"/>
<rect x="2" y="468" width="739" height="1" fill="#000"/>
<rect x="3" y="351" width="739" height="1" fill="#ff4500"/>
<rect x="3" y="271" width="739" height="2" fill="#ff0000"/>
<rect x="3" y="409" width="739" height="2" fill="#ff0000"/>
<rect x="741" y="33" width="2" height="1" fill="#000"/>
<rect x="741" y="91" width="2" height="1" fill="#000"/>
<rect x="741" y="149" width="2" height="1" fill="#000"/>
<rect x="741" y="207" width="2" height="1" fill="#000"/>
<rect x="741" y="265" width="2" height="1" fill="#000"/>
<rect x="741" y="323" width="2" height="1" fill="#000"/>
<rect x="741" y="381" width="2" height="1" fill="#000"/>
<rect x="741" y="439" width="2" height="1" fill="#000"/>
<rect x="3" y="469" width="1" height="3" fill="#000"/>
<rect x="67" y="469" width="1" height="3" fill="#000"/>
<rect x="131" y="469" width="1" height="3" fill="#000"/>
<rect x="195" y="469" width="1" height="3" fill="#000"/>
<rect x="259" y="469" width="1" height="3" fill="#000"/>
<rect x="323" y="469" width="1" height="3" fill="#000"/>
<rect x="387" y="469" width="1" height="3" fill="#000"/>
<rect x="451" y="469" width="1" height="3" fill="#000"/>
<rect x="515" y="469" width="1" height="3" fill="#000"/>
<rect x="579" y="469" width="1" height="3" fill="#000"/>
<rect x="643" y="469" width="1" height="3" fill="#000"/>
<rect x="707" y="469" width="1" height="3" fill="#000"/>
<rect x="6" y="9" width="7" height="1"/><rect x="7" y="10" width="5" height="1"/><rect x="8" y="11" width="3" height="1"/><rect x="9" y="12" width="1" height="1"/>
<rect x="742" y="266" width="36" height="11" fill="#ff0000"/>
<rect x="742" y="346" width="36" height="11" fill="#ff4500"/>
<rect x="742" y="364" width="36" height="11" fill="#000"/>
<rect x="742" y="404" width="36" height="11" fill="#ff0000"/>
</g>
<text transform="translate(18,14) scale(0.94,1)">EURUSD,M5</text>
<text transform="translate(79.4,14) scale(0.895,1)">1.1736</text>
<text transform="translate(110.5,14) scale(0.895,1)">1.1737</text>
<text transform="translate(141.2,14) scale(0.895,1)">1.1736</text>
<text transform="translate(172.1,14) scale(0.895,1)">1.1737</text>
<text transform="translate(746.5,37) scale(0.895,1)">1.1795</text>
<text transform="translate(746.5,95) scale(0.895,1)">1.1785</text>
<text transform="translate(746.5,153) scale(0.895,1)">1.1775</text>
<text transform="translate(746.5,211) scale(0.895,1)">1.1765</text>
<text transform="translate(746.5,269) scale(0.895,1)">1.1755</text>
<text transform="translate(746.5,327) scale(0.895,1)">1.1745</text>
<text transform="translate(746.5,385) scale(0.895,1)">1.1735</text>
<text transform="translate(746.5,443) scale(0.895,1)">1.1725</text>
<rect x="742" y="266" width="36" height="11" fill="#ff0000" shape-rendering="crispEdges"/>
<text transform="translate(746.5,275) scale(0.895,1)" style="fill:#fff;stroke:#fff">1.1754</text>
<text transform="translate(746.5,355) scale(0.895,1)" style="fill:#fff;stroke:#fff">1.1740</text>
<text transform="translate(746.5,373) scale(0.895,1)" style="fill:#fff;stroke:#fff">1.1737</text>
<text transform="translate(746.5,413) scale(0.895,1)" style="fill:#fff;stroke:#fff">1.1730</text>
<text transform="translate(2,481) scale(0.925,1)">30 Dec 2025</text>
<text transform="translate(66,481) scale(0.925,1)">30 Dec 18:55</text>
<text transform="translate(130,481) scale(0.925,1)">30 Dec 20:15</text>
<text transform="translate(194,481) scale(0.925,1)">30 Dec 21:35</text>
<text transform="translate(258,481) scale(0.925,1)">30 Dec 22:55</text>
<text transform="translate(322,481) scale(0.925,1)">31 Dec 00:20</text>
<text transform="translate(386,481) scale(0.925,1)">31 Dec 01:40</text>
<text transform="translate(450,481) scale(0.925,1)">31 Dec 03:00</text>
<text transform="translate(514,481) scale(0.925,1)">31 Dec 04:20</text>
<text transform="translate(578,481) scale(0.925,1)">31 Dec 05:40</text>
<text transform="translate(642,481) scale(0.925,1)">31 Dec 07:00</text>
<text transform="translate(706,481) scale(0.925,1)">31 Dec 08:20</text>
</svg></body></html>
